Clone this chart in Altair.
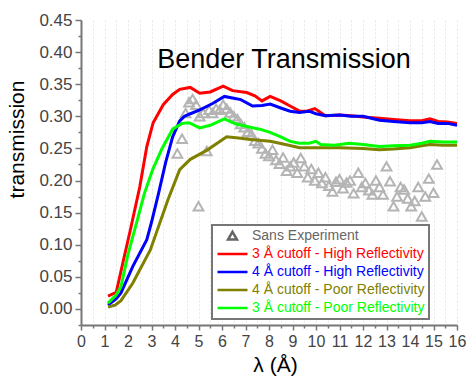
import altair as alt
import pandas as pd

# ---- data ----
red_x = [1.15, 1.5, 1.8, 2.1, 2.5, 2.8, 3.07, 3.5, 3.9, 4.2, 4.65, 5.05, 5.5, 6.05, 6.45, 7.05, 7.4, 7.7, 8.05, 8.5, 8.9, 9.3, 9.6, 9.95, 10.4, 11.0, 11.5, 12.0, 12.7, 13.3, 14.0, 14.5, 14.85, 15.2, 15.6, 16.0]
red_y = [0.020, 0.026, 0.075, 0.123, 0.19, 0.253, 0.29, 0.318, 0.334, 0.342, 0.345, 0.336, 0.338, 0.347, 0.340, 0.337, 0.332, 0.324, 0.331, 0.324, 0.316, 0.308, 0.308, 0.312, 0.301, 0.302, 0.301, 0.299, 0.297, 0.295, 0.293, 0.293, 0.296, 0.292, 0.291, 0.289]

blue_x = [1.15, 1.5, 1.7, 2.2, 2.8, 3.0, 3.3, 3.6, 3.9, 4.2, 4.4, 4.65, 5.06, 5.6, 6.1, 6.5, 6.8, 7.3, 7.7, 8.05, 8.5, 8.9, 9.3, 9.7, 10.0, 10.4, 11.0, 11.5, 12.0, 12.7, 13.3, 14.0, 14.5, 14.85, 15.2, 15.6, 16.0]
blue_y = [0.006, 0.016, 0.025, 0.066, 0.108, 0.135, 0.18, 0.228, 0.268, 0.293, 0.300, 0.304, 0.310, 0.320, 0.331, 0.328, 0.326, 0.316, 0.317, 0.319, 0.313, 0.308, 0.306, 0.308, 0.304, 0.301, 0.302, 0.300, 0.300, 0.294, 0.292, 0.290, 0.290, 0.292, 0.289, 0.289, 0.286]

olive_x = [1.15, 1.45, 1.7, 2.2, 2.95, 3.7, 4.2, 4.65, 5.35, 6.2, 6.8, 7.2, 8.05, 8.7, 9.3, 10.2, 11.0, 12.0, 12.7, 13.3, 14.0, 14.5, 14.85, 15.4, 16.0]
olive_y = [0.003, 0.006, 0.013, 0.040, 0.092, 0.17, 0.217, 0.233, 0.247, 0.268, 0.266, 0.264, 0.261, 0.256, 0.251, 0.251, 0.251, 0.250, 0.248, 0.249, 0.251, 0.254, 0.256, 0.255, 0.255]

green_x = [1.15, 1.5, 1.7, 2.0, 2.4, 2.7, 3.05, 3.45, 3.9, 4.3, 4.6, 5.05, 5.5, 6.1, 6.6, 7.2, 7.6, 8.05, 8.5, 8.9, 9.3, 9.7, 10.0, 10.2, 10.8, 11.4, 12.0, 12.7, 13.3, 14.0, 14.5, 14.85, 15.4, 16.0]
green_y = [0.009, 0.022, 0.035, 0.085, 0.139, 0.18, 0.217, 0.25, 0.28, 0.289, 0.290, 0.282, 0.286, 0.296, 0.288, 0.283, 0.280, 0.275, 0.268, 0.261, 0.258, 0.258, 0.261, 0.256, 0.255, 0.258, 0.256, 0.253, 0.254, 0.255, 0.258, 0.261, 0.260, 0.260]

exp_x = [4.1, 4.3, 4.45, 4.6, 4.75, 4.9, 5.0, 5.05, 5.2, 5.35, 5.45, 5.6, 5.75, 5.9, 6.05, 6.2, 6.35, 6.5, 6.65, 6.8, 6.95, 7.1, 7.25, 7.4, 7.55, 7.7, 7.85, 8.0, 8.15, 8.3, 8.45, 8.6, 8.75, 8.9, 9.05, 9.2, 9.35, 9.5, 9.65, 9.8, 9.95, 10.1, 10.25, 10.4, 10.55, 10.7, 10.85, 11.0, 11.15, 11.3, 11.45, 11.6, 11.8, 11.95, 12.1, 12.25, 12.4, 12.55, 12.7, 12.85, 13.0, 13.15, 13.3, 13.45, 13.6, 13.75, 13.9, 14.05, 14.2, 14.35, 14.5, 14.65, 14.8, 15.0, 15.15]
exp_y = [0.242, 0.265, 0.305, 0.322, 0.327, 0.318, 0.160, 0.300, 0.305, 0.246, 0.310, 0.305, 0.312, 0.310, 0.318, 0.312, 0.306, 0.300, 0.296, 0.288, 0.283, 0.276, 0.272, 0.262, 0.258, 0.250, 0.242, 0.238, 0.248, 0.232, 0.226, 0.236, 0.215, 0.222, 0.228, 0.212, 0.235, 0.222, 0.205, 0.218, 0.200, 0.212, 0.196, 0.205, 0.192, 0.183, 0.198, 0.202, 0.188, 0.197, 0.200, 0.180, 0.212, 0.190, 0.196, 0.185, 0.178, 0.200, 0.190, 0.178, 0.222, 0.199, 0.160, 0.175, 0.190, 0.186, 0.172, 0.160, 0.168, 0.190, 0.144, 0.175, 0.203, 0.181, 0.225]

series_names = ["Sans Experiment",
                "3 Å cutoff - High Reflectivity",
                "4 Å cutoff - High Reflectivity",
                "4 Å cutoff - Poor Reflectivity",
                "3 Å cutoff - Poor Reflectivity"]
series_colors = ["#666666", "#ff0000", "#0000ff", "#808000", "#00ff00"]

x_ticks = [i * 0.5 for i in range(33)]
y_ticks = [round(-0.025 + i * 0.025, 3) for i in range(20)]

FONT = "Liberation Sans"

# ---- tables ----
rows = []
for name, xs, ys in [(series_names[1], red_x, red_y),
                     (series_names[2], blue_x, blue_y),
                     (series_names[3], olive_x, olive_y),
                     (series_names[4], green_x, green_y)]:
    for xv, yv in zip(xs, ys):
        rows.append({"series": name, "lam": xv, "T": yv})
lines_df = pd.DataFrame(rows)
exp_df = pd.DataFrame({"lam": exp_x, "T": exp_y})
legend_df = pd.DataFrame({"series": series_names, "lam": [None] * 5, "T": [None] * 5})

x_enc = alt.X("lam:Q",
              scale=alt.Scale(domain=[0, 16], nice=False, zero=False),
              axis=alt.Axis(values=x_ticks,
                            labelExpr="datum.value % 1 == 0 ? format(datum.value, 'd') : ''",
                            labelOverlap=False, labelFlush=False, labelFontSize=16,
                            tickSize={"condition": {"test": "datum.value % 1 == 0", "value": 5}, "value": 3},
                            grid=True, gridColor="#e6e6e6", gridDash=[2, 2], gridWidth=1,
                            title="λ (Å)", titleX=194, titleY=40, titleBaseline="middle",
                            titleAlign="center"))
y_enc = alt.Y("T:Q",
              scale=alt.Scale(domain=[-0.025, 0.45], nice=False, zero=False),
              axis=alt.Axis(values=y_ticks,
                            labelExpr="abs(datum.value*20 - round(datum.value*20)) < 0.01 && datum.value >= 0 ? format(datum.value, '.2f') : ''",
                            labelOverlap=False, labelFlush=False, labelFontSize=17,
                            tickSize={"condition": {"test": "abs(datum.value*20 - round(datum.value*20)) < 0.01", "value": 6}, "value": 3},
                            grid=False,
                            title="transmission", titleX=-64, titleY=119, titleAngle=-90,
                            titleBaseline="middle", titleAlign="center"))

color_scale = alt.Scale(domain=series_names, range=series_colors)

scatter = alt.Chart(exp_df).mark_point(shape="triangle-up", filled=False, size=95,
                                       color="#b4b4b4", strokeWidth=2, opacity=1).encode(x=x_enc, y=y_enc)

line_layers = []
for name in [series_names[1], series_names[2], series_names[3], series_names[4]]:
    line_layers.append(
        alt.Chart(lines_df).transform_filter(alt.datum.series == name)
        .mark_line(strokeWidth=3)
        .encode(x=x_enc, y=y_enc,
                color=alt.Color("series:N", scale=color_scale, legend=None))
    )

tri_path = "M0,-0.28L0.3,0.24L-0.3,0.24Z"
leg = alt.Legend(title=None, orient="none", legendX=131, legendY=205,
                 labelFont=FONT, labelFontSize=14, labelLimit=400,
                 labelColor={"expr": "scale('color', datum.value)"},
                 symbolSize=900, symbolStrokeWidth=2.5, labelOffset=3,
                 clipHeight=14, rowPadding=4, padding=4, strokeColor="#777777",
                 fillColor="white", cornerRadius=0)
legend_layer = alt.Chart(legend_df).mark_point(filled=False, size=900, strokeWidth=2.5, opacity=1).encode(
    x=x_enc, y=y_enc,
    color=alt.Color("series:N", scale=color_scale, legend=leg),
    shape=alt.Shape("series:N", scale=alt.Scale(domain=series_names,
                                                range=[tri_path, "stroke", "stroke", "stroke", "stroke"]),
                    legend=leg)
)

chart = alt.layer(scatter, *line_layers, legend_layer).resolve_legend(
    color="independent", shape="independent"
).properties(
    width=376, height=305,
    autosize=alt.AutoSizeParams(type="none"),
    padding={"left": 81, "top": 20, "right": 14, "bottom": 56},
    title=alt.TitleParams("Bender Transmission", font=FONT, fontSize=27, fontWeight="normal",
                          color="black", anchor="middle", dx=15, dy=67),
).configure_view(stroke=None).configure_axis(
    labelFont=FONT, labelColor="#444444",
    titleFont=FONT, titleFontSize=21, titleFontWeight="normal", titleColor="black",
    domainColor="#777777", domainWidth=2, tickColor="#777777", tickWidth=1.5,
    labelPadding=3
).configure_legend(strokeWidth=2)

chart.save("out.html", embed_options={"renderer": "svg", "actions": False})
